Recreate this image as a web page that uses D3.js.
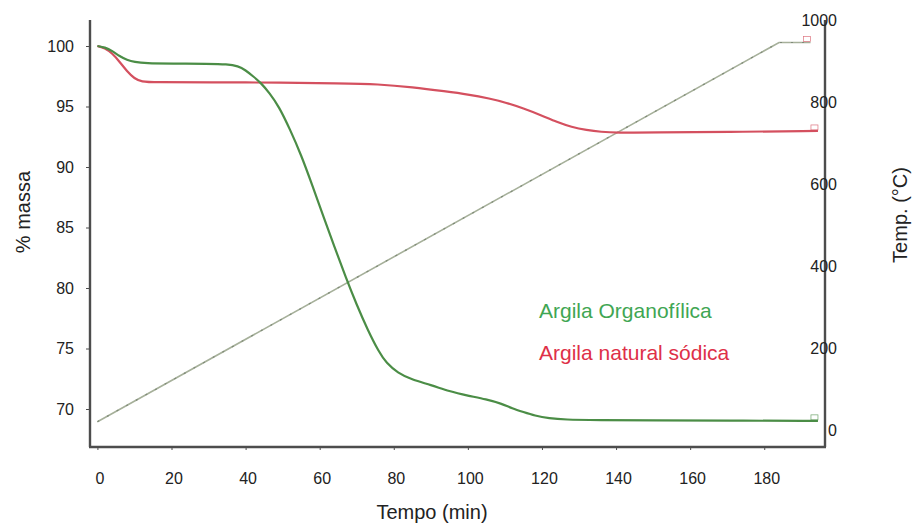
<!DOCTYPE html>
<html><head><meta charset="utf-8">
<script src="https://cdn.jsdelivr.net/npm/d3@7"></script>
<style>body{margin:0;background:#fff}svg{display:block}text{font-family:"Liberation Sans",Arial,sans-serif}</style>
</head><body><svg id="c" width="914" height="526"></svg>
<script>
const organoTime = [0,2,4,6,8,10,13,20,30,35,38,40,42,44,46.5,49,52,55,58,61,64,67,70,73,76,78,81,85,90,95,100,105,109,112,115,118,122,126,135,150,170,194.5];
const organoMass = [100,99.9,99.6,99.15,98.85,98.68,98.57,98.55,98.53,98.5,98.35,98.0,97.5,97.0,96.1,95.0,93.1,91.0,88.5,85.9,83.4,80.9,78.6,76.5,74.7,73.8,73.0,72.4,72.0,71.45,71.1,70.8,70.45,70.05,69.75,69.45,69.22,69.12,69.09,69.05,69.04,69.02];
const sodicaTime = [0,2,4,6,8,10,12,15,30,50,65,76,85,94,100,106,110,115,120,124,128,132,136,140,150,170,194.5];
const sodicaMass = [100,99.85,99.4,98.7,97.9,97.3,97.05,97.0,97.0,96.98,96.92,96.85,96.6,96.25,96.0,95.65,95.35,94.85,94.25,93.72,93.3,93.05,92.9,92.83,92.85,92.9,92.98];
const tempTime = [0,184,192.5];
const tempValue = [25,950,950];
const xTickLabels = [0,20,40,60,80,100,120,140,160,180];
const leftTickLabels = [70,75,80,85,90,95,100];
const rightTickLabels = [0,200,400,600,800,1000];
const seriesNames = ["Argila Organofílica","Argila natural sódica"];

const svg = d3.select("#c");
const x = d3.scaleLinear().domain([-2,196.4]).range([90,825]);
const yL = d3.scaleLinear().domain([66.86,102.15]).range([447,20]);
const yR = d3.scaleLinear().domain([-36.6,1004.9]).range([447,20]);
const axisCol = "#4d4d4d";

// temperature line
const tempData = tempTime.map((t,i)=>({t,v:tempValue[i]}));
svg.append("path").datum(tempData)
  .attr("d", d3.line().x(d=>x(d.t)).y(d=>yR(d.v)))
  .attr("fill","none").attr("stroke","#a6b09a").attr("stroke-width",1.6);
svg.append("path").datum(tempData)
  .attr("d", d3.line().x(d=>x(d.t)).y(d=>yR(d.v)))
  .attr("fill","none").attr("stroke","#7f8a78").attr("stroke-width",1.2).attr("stroke-dasharray","2,9");

const line = d3.line().x(d=>x(d.t)).y(d=>yL(d.v)).curve(d3.curveBasis);
const sod = sodicaTime.map((t,i)=>({t,v:sodicaMass[i]}));
const org = organoTime.map((t,i)=>({t,v:organoMass[i]}));
svg.append("path").datum(sod).attr("d",line).attr("fill","none").attr("stroke","#d4505f").attr("stroke-width",2.2);
svg.append("path").datum(org).attr("d",line).attr("fill","none").attr("stroke","#4b8d46").attr("stroke-width",2.2);

// small end markers
function marker(px,py,col){
  svg.append("rect").attr("x",px-7).attr("y",py-6).attr("width",7).attr("height",5)
    .attr("fill","none").attr("stroke",col).attr("stroke-width",0.7).attr("opacity",0.8);
}
marker(x(tempTime[2]),yR(tempValue[2]),"#d4505f");
marker(x(sodicaTime[sodicaTime.length-1]),yL(sodicaMass[sodicaMass.length-1]),"#d4505f");
marker(x(organoTime[organoTime.length-1]),yL(organoMass[organoMass.length-1]),"#4b8d46");

// axes frame
svg.append("line").attr("x1",90).attr("x2",90).attr("y1",20).attr("y2",447).attr("stroke",axisCol).attr("stroke-width",2.4);
svg.append("line").attr("x1",825).attr("x2",825).attr("y1",20).attr("y2",447).attr("stroke",axisCol).attr("stroke-width",2.4);
svg.append("line").attr("x1",89).attr("x2",826).attr("y1",447).attr("y2",447).attr("stroke",axisCol).attr("stroke-width",2.4);

// left axis
const gL = svg.append("g").attr("transform","translate(90,0)");
gL.call(d3.axisLeft(yL).tickValues(d3.range(67,103,1)).tickSize(3).tickFormat(""));
gL.call(d3.axisLeft(yL).tickValues(leftTickLabels).tickSize(4).tickPadding(12).tickFormat(d3.format("d")));
gL.selectAll(".domain").remove();
gL.selectAll("line").attr("stroke",axisCol);
gL.selectAll("text").attr("font-size",16).attr("fill","#222");

// bottom axis
const gB = svg.append("g").attr("transform","translate(0,447)");
gB.call(d3.axisBottom(x).tickValues(d3.range(0,191,10)).tickSize(3).tickFormat(""));
gB.call(d3.axisBottom(x).tickValues(xTickLabels).tickSize(3).tickPadding(23).tickFormat(d3.format("d")));
gB.selectAll(".domain").remove();
gB.selectAll("line").attr("stroke",axisCol);
gB.selectAll("text").attr("font-size",16).attr("fill","#222").attr("dx",2);

// right axis
const gR = svg.append("g").attr("transform","translate(825,0)");
gR.call(d3.axisLeft(yR).tickValues(d3.range(0,1001,100)).tickSize(3).tickFormat(""));
gR.call(d3.axisRight(yR).tickValues(rightTickLabels).tickSize(0).tickPadding(12).tickFormat(d3.format("d")));
gR.selectAll(".domain").remove();
gR.selectAll("line").attr("stroke",axisCol);
gR.selectAll("text").attr("font-size",16).attr("fill","#222").attr("dy","0.2em");

// axis titles
svg.append("text").attr("transform","translate(30,212) rotate(-90)").attr("text-anchor","middle")
  .attr("font-size",20).attr("fill","#222").text("% massa");
svg.append("text").attr("transform","translate(907,215) rotate(-90)").attr("text-anchor","middle")
  .attr("font-size",20).attr("fill","#222").text("Temp. (°C)");
svg.append("text").attr("x",432).attr("y",519).attr("text-anchor","middle")
  .attr("font-size",20).attr("fill","#222").text("Tempo (min)");

// legend
svg.append("text").attr("x",539).attr("y",318).attr("font-size",21).attr("fill","#3fa653").text(seriesNames[0]);
svg.append("text").attr("x",539).attr("y",360).attr("font-size",21).attr("fill","#de3048").text(seriesNames[1]);
</script></body></html>
